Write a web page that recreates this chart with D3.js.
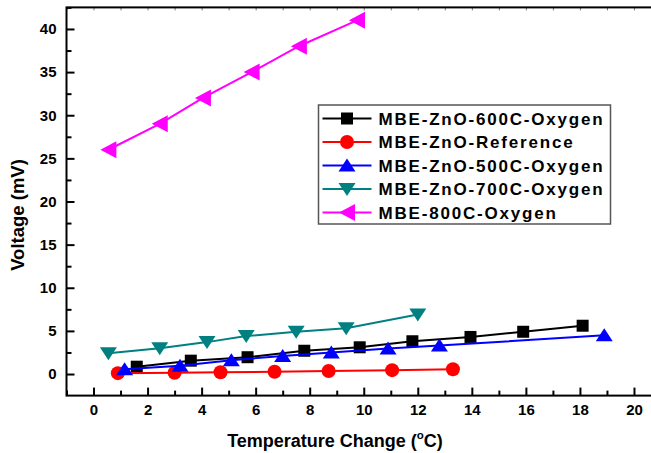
<!DOCTYPE html>
<html>
<head>
<meta charset="utf-8">
<script src="https://cdn.jsdelivr.net/npm/d3@7"></script>
<style>
  body { margin: 0; background: #fff; }
  svg text { font-family: "Liberation Sans", Arial, sans-serif; font-weight: bold; }
</style>
</head>
<body>
<div id="chart"></div>
<script>
// data
const names = ['MBE-ZnO-600C-Oxygen', 'MBE-ZnO-Reference', 'MBE-ZnO-500C-Oxygen', 'MBE-ZnO-700C-Oxygen', 'MBE-800C-Oxygen'];
const colors = ['#000000', '#ff0000', '#0000ff', '#008080', '#ff00ff'];
const shapes = ['square', 'circle', 'up', 'down', 'left'];

const x600 = [1.6, 3.6, 5.7, 7.8, 9.85, 11.8, 13.95, 15.9, 18.1];
const y600 = [0.85, 1.55, 1.95, 2.7, 3.1, 3.8, 4.3, 4.9, 5.6];
const xRef = [0.9, 3.0, 4.7, 6.7, 8.7, 11.05, 13.3];
const yRef = [0.1, 0.15, 0.2, 0.27, 0.35, 0.45, 0.55];
const x500 = [1.15, 3.2, 5.1, 7.0, 8.8, 10.9, 12.8, 18.9];
const y500 = [0.55, 0.95, 1.6, 2.1, 2.5, 2.95, 3.3, 4.5];
const x700 = [0.55, 2.45, 4.2, 5.65, 7.5, 9.35, 12.0];
const y700 = [2.4, 3.0, 3.7, 4.4, 4.9, 5.3, 6.9];
const x800 = [0.55, 2.45, 4.05, 5.85, 7.6, 9.75];
const y800 = [26, 29, 32, 35, 38, 41];

const xMajor = [0, 2, 4, 6, 8, 10, 12, 14, 16, 18, 20];
const xMinor = [-1, 1, 3, 5, 7, 9, 11, 13, 15, 17, 19];
const yMajor = [0, 5, 10, 15, 20, 25, 30, 35, 40];
const yMinor = [2.5, 7.5, 12.5, 17.5, 22.5, 27.5, 32.5, 37.5, 42.5];

const width = 651, height = 453;

const series = [
  {xs: x600, ys: y600}, {xs: xRef, ys: yRef}, {xs: x500, ys: y500},
  {xs: x700, ys: y700}, {xs: x800, ys: y800}
].map((s, i) => ({
  name: names[i], color: colors[i], shape: shapes[i],
  values: s.xs.map((v, j) => ({x: v, y: s.ys[j]}))
}));

const xScale = d3.scaleLinear().domain([-1, 21]).range([66.5, 661]);
const yScale = d3.scaleLinear().domain([-2.5, 42.5]).range([395.6, 7.4]);

function marker(shape) {
  if (shape === 'square') return 'M-6,-6H6V6H-6Z';
  if (shape === 'circle') return d3.symbol(d3.symbolCircle, Math.PI * 49)();
  if (shape === 'up') return 'M0,-7L8.5,6L-8.5,6Z';
  if (shape === 'down') return 'M0,7L8.5,-6L-8.5,-6Z';
  return 'M-8,0L8,-8.5L8,8.5Z';
}

const svg = d3.select('#chart').append('svg')
  .attr('width', width).attr('height', height);

// ticks
const axisStyle = g => {
  g.select('.domain').remove();
  g.selectAll('line').attr('stroke', '#000').attr('stroke-width', 2);
  g.selectAll('text').attr('font-size', 15).attr('fill', '#000');
};

svg.append('g').attr('transform', `translate(0,${yScale(-2.5)})`)
  .call(d3.axisBottom(xScale).tickValues(xMajor).tickSize(-8).tickPadding(9))
  .call(axisStyle);
svg.append('g').attr('transform', `translate(0,${yScale(-2.5)})`)
  .call(d3.axisBottom(xScale).tickValues(xMinor).tickSize(-5).tickFormat(''))
  .call(axisStyle);
svg.append('g').attr('transform', `translate(0,${yScale(42.5)})`)
  .call(d3.axisTop(xScale).tickValues(xMajor.concat(xMinor)).tickSize(-3).tickFormat(''))
  .call(axisStyle)
  .call(g => g.selectAll('line').attr('stroke-width', 1).attr('stroke', '#777'));

svg.append('g').attr('transform', `translate(${xScale(-1)},0)`)
  .call(d3.axisLeft(yScale).tickValues(yMajor).tickSize(-8).tickPadding(10))
  .call(axisStyle);
svg.append('g').attr('transform', `translate(${xScale(-1)},0)`)
  .call(d3.axisLeft(yScale).tickValues(yMinor).tickSize(-5).tickFormat(''))
  .call(axisStyle);

// frame
svg.append('rect')
  .attr('x', xScale(-1)).attr('y', yScale(42.5))
  .attr('width', xScale(21) - xScale(-1))
  .attr('height', yScale(-2.5) - yScale(42.5))
  .attr('fill', 'none').attr('stroke', '#000').attr('stroke-width', 2);

// lines + markers
const line = d3.line().x(d => xScale(d.x)).y(d => yScale(d.y));

const sg = svg.append('g').selectAll('g').data(series).join('g');
sg.append('path')
  .attr('d', d => line(d.values))
  .attr('fill', 'none').attr('stroke', d => d.color).attr('stroke-width', 2);
sg.selectAll('path.m').data(d => d.values.map(v => ({...v, s: d})))
  .join('path').attr('class', 'm')
  .attr('transform', d => `translate(${xScale(d.x)},${yScale(d.y)})`)
  .attr('d', d => marker(d.s.shape))
  .attr('fill', d => d.s.color);

// legend
const legend = svg.append('g').attr('transform', 'translate(318.5,105)');
legend.append('rect').attr('width', 292).attr('height', 119)
  .attr('fill', '#fff').attr('stroke', '#555').attr('stroke-width', 1.5);
const li = legend.selectAll('g').data(series).join('g')
  .attr('transform', (d, i) => `translate(0,${13.5 + i * 23.5})`);
li.append('line').attr('x1', 4).attr('x2', 53)
  .attr('stroke', d => d.color).attr('stroke-width', 2);
li.append('path').attr('transform', 'translate(28.5,0)')
  .attr('d', d => marker(d.shape)).attr('fill', d => d.color);
li.append('text').attr('x', 60).attr('dy', '0.36em')
  .attr('font-size', 17).attr('letter-spacing', 1.8).text(d => d.name);

// axis titles
const xt = svg.append('text')
  .attr('x', 335).attr('y', 446.5)
  .attr('text-anchor', 'middle').attr('font-size', 18);
xt.append('tspan').text('Temperature Change (');
xt.append('tspan').attr('font-size', 11.5).attr('dy', -7.5).text('o');
xt.append('tspan').attr('dy', 7.5).text('C)');

svg.append('text')
  .attr('transform', 'translate(24,215) rotate(-90)')
  .attr('text-anchor', 'middle').attr('font-size', 18.5)
  .text('Voltage (mV)');
</script>
</body>
</html>
